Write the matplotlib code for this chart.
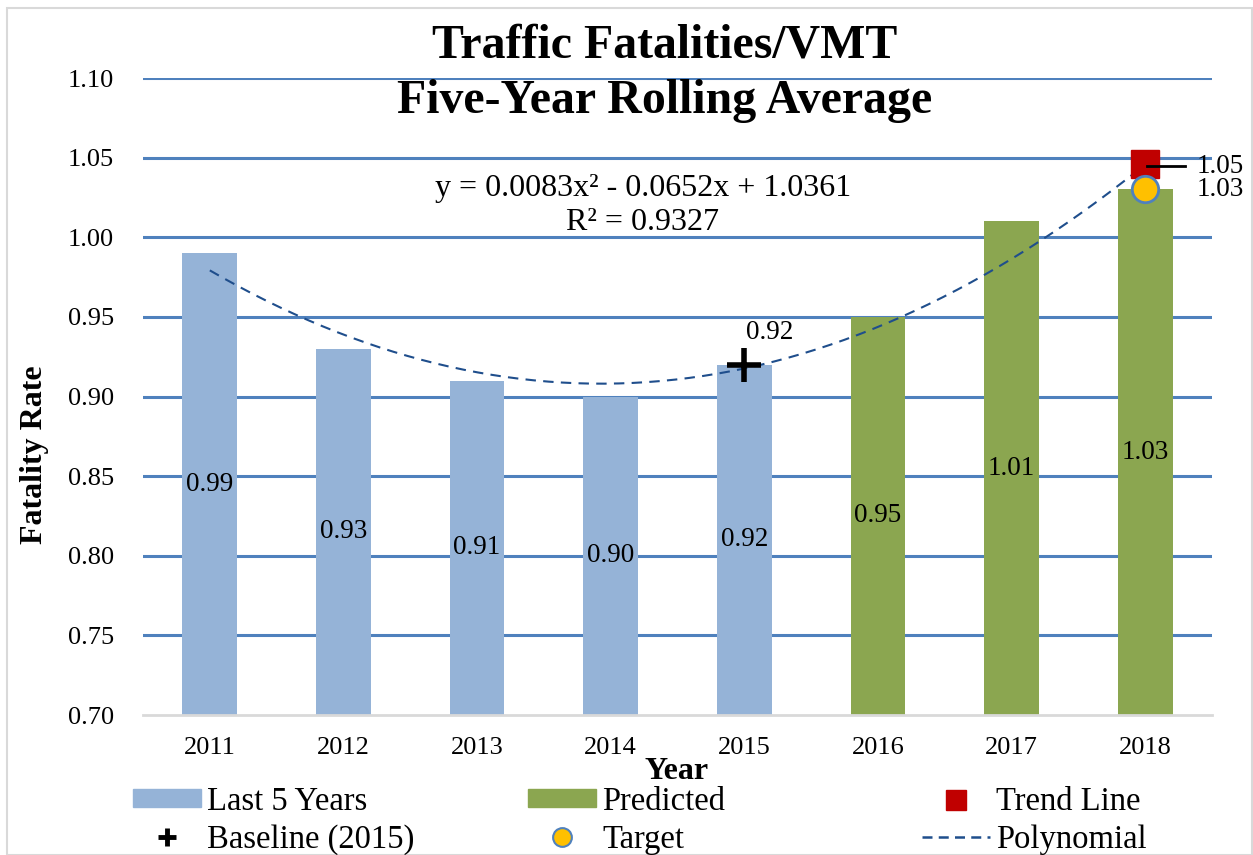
import matplotlib
matplotlib.use("Agg")
import matplotlib.pyplot as plt
import numpy as np
from matplotlib.patches import Patch, Rectangle
from matplotlib.lines import Line2D

plt.rcParams['font.family'] = ['Liberation Serif', 'DejaVu Serif']

years = ["2011", "2012", "2013", "2014", "2015", "2016", "2017", "2018"]
last5_vals = [0.99, 0.93, 0.91, 0.90, 0.92]
pred_vals = [0.95, 1.01, 1.03]
poly_coef = [0.0083, -0.0652, 1.0361]
trend_2018 = 1.046
trend_label = "1.05"
target_2018 = 1.03
target_label = "1.03"
baseline_2015 = 0.92
yticks = [0.70, 0.75, 0.80, 0.85, 0.90, 0.95, 1.00, 1.05, 1.10]

blue = "#95B3D7"
green = "#8BA650"
grid_c = "#4F81BD"
dash_c = "#1F4E8C"

fig = plt.figure(figsize=(12.53, 8.55), dpi=100)
fig.patches.append(Rectangle((7/1253, 0), 1 - 7/1253 - 0.0005, 1 - 8/855, transform=fig.transFigure,
                             fill=False, edgecolor="#D9D9D9", linewidth=1.5, zorder=0))
ax = fig.add_axes([143/1253, 1 - 715/855, (1212 - 143)/1253, (715 - 78)/855])

x = np.arange(len(years))
w = 0.41
n5 = len(last5_vals)
ax.bar(x[:n5], last5_vals, width=w, color=blue, zorder=2, bottom=0)
ax.bar(x[n5:], pred_vals, width=w, color=green, zorder=2, bottom=0)

allv = last5_vals + pred_vals
for xi, v in zip(x, allv):
    ax.text(xi, (0.70 + v) / 2, f"{v:.2f}", ha="center", va="center", fontsize=19.5, zorder=5)

# polynomial trendline (x = 1..8)
xs = np.linspace(1, len(years), 200)
ys = np.polyval(poly_coef, xs)
ax.plot(xs - 1, ys, linestyle=(0, (5, 3.5)), color=dash_c, linewidth=1.5, zorder=3)

# baseline
ax.plot([4], [baseline_2015], marker="+", markersize=24, markeredgewidth=4, color="black", zorder=6, linestyle="none")
ax.text(4.19, 0.940, f"{baseline_2015:.2f}", fontsize=19.5, ha="center", va="center", zorder=6)

# trend & target
ax.plot([7], [trend_2018], marker="s", markersize=20, color="#C00000", linestyle="none", zorder=6)
ax.plot([7.01, 7.30], [trend_2018 - 0.0015, trend_2018 - 0.0015], color="black", linewidth=2, zorder=7)
ax.text(7.385, trend_2018 - 0.0015, trend_label, fontsize=19.5, va="center", ha="left", zorder=7)
ax.plot([7], [target_2018], marker="o", markersize=19, color="#FFC000", markeredgecolor="#4F81BD",
        markeredgewidth=2, linestyle="none", zorder=7)
ax.text(7.385, target_2018, target_label, fontsize=19.5, va="center", ha="left", zorder=7)

ax.text(3.24, 1.0305, "y = 0.0083x² - 0.0652x + 1.0361", fontsize=23, ha="center", va="center")
ax.text(3.24, 1.0092, "R² = 0.9327", fontsize=23, ha="center", va="center")

ax.set_xlim(-0.5, len(years) - 0.5)
ax.set_ylim(0.70, 1.10)
ax.set_yticks(yticks)
ax.set_yticklabels([f"{t:.2f}" for t in yticks], fontsize=19)
ax.set_xticks(x)
ax.set_xticklabels(years, fontsize=19)
ax.tick_params(axis="both", length=0)
ax.tick_params(axis="x", pad=16)
ax.tick_params(axis="y", pad=21)
for t in yticks[1:]:
    ax.axhline(t, color=grid_c, linewidth=2.2, zorder=1)
for s in ["top", "right", "left"]:
    ax.spines[s].set_visible(False)
ax.spines["bottom"].set_color("#D9D9D9")
ax.spines["bottom"].set_linewidth(2)
ax.spines["bottom"].set_zorder(4)

fig.text(35/1253, 1 - 455/855, "Fatality Rate", fontsize=23, fontweight="bold", ha="center", va="center", rotation=90)
fig.text(677/1253, 1 - 771/855, "Year", fontsize=23, fontweight="bold", ha="center", va="center")

fig.text(665/1253, 1 - 46/855, "Traffic Fatalities/VMT", fontsize=34.5, fontweight="bold", ha="center", va="center")
fig.text(665/1253, 1 - 101/855, "Five-Year Rolling Average", fontsize=34.5, fontweight="bold", ha="center", va="center")

handles = [
    Patch(color=blue, label="Last 5 Years"),
    Line2D([], [], marker="+", color="black", markersize=13, markeredgewidth=3.5, linestyle="none", label="Baseline (2015)"),
    Patch(color=green, label="Predicted"),
    Line2D([], [], marker="o", color="#FFC000", markeredgecolor="#4F81BD", markersize=13.5, markeredgewidth=1.5,
           linestyle="none", label="Target"),
    Line2D([], [], marker="s", color="#C00000", markersize=14, linestyle="none", label="Trend Line"),
    Line2D([], [], color=dash_c, linestyle=(0, (4, 2.5)), linewidth=1.8, label="Polynomial"),
]
col_x = [133, 528, 922]
for i, cx in enumerate(col_x):
    leg = fig.legend(handles=handles[2 * i:2 * i + 2], ncol=1, loc="center left",
                     bbox_to_anchor=(cx / 1253, 1 - 820.5 / 855), borderaxespad=0,
                     frameon=False, fontsize=23.5, handlelength=2.08, handletextpad=0.2,
                     handleheight=0.46, labelspacing=0.22, borderpad=0.0)

fig.savefig("out.png", dpi=100)
